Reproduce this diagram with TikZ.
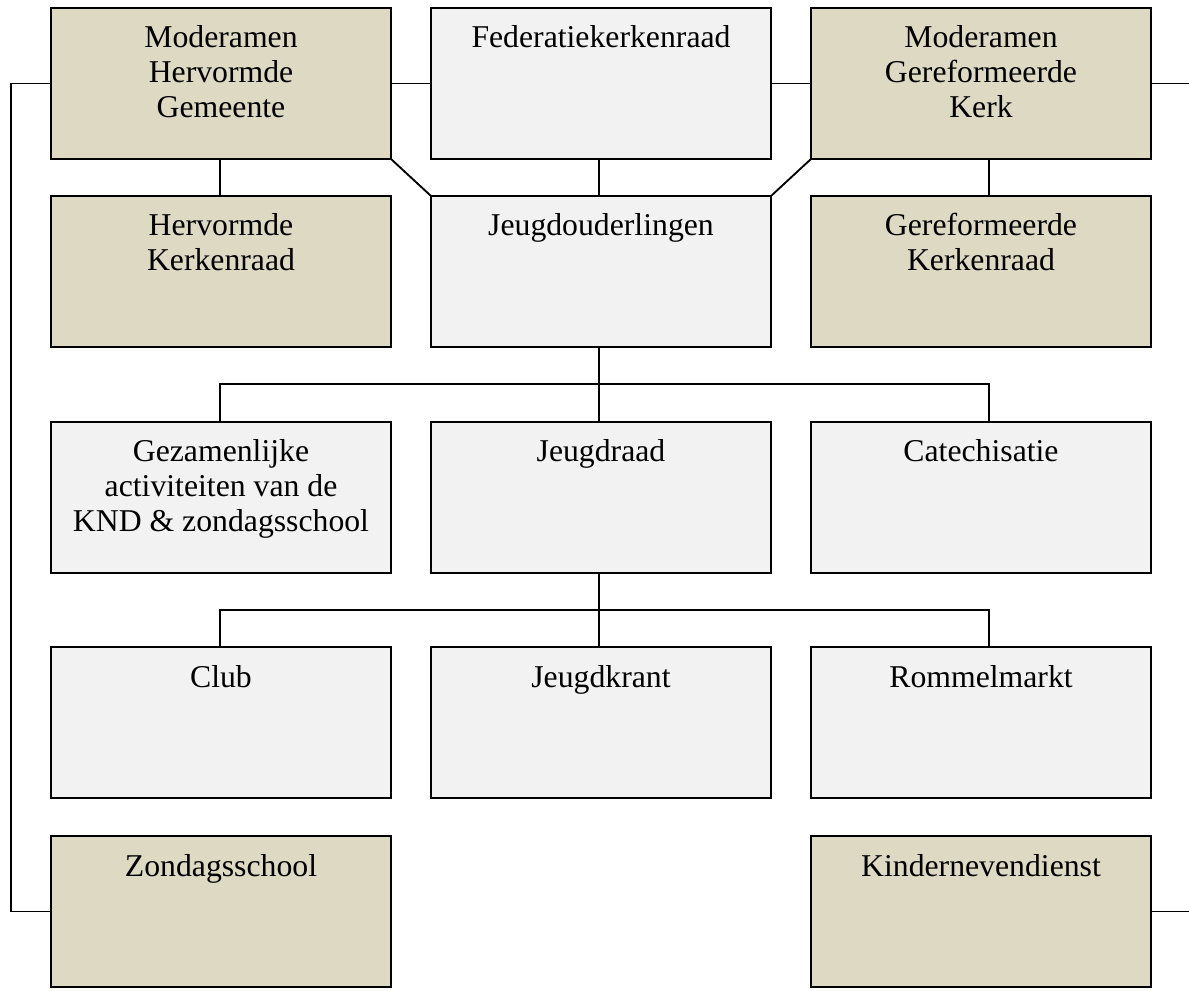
\documentclass[tikz,border=0pt]{standalone}
\usepackage{fontspec}
\setmainfont{Liberation Serif}
\definecolor{boxtan}{HTML}{DDD9C3}
\definecolor{boxgray}{HTML}{F2F2F2}
\tikzset{
  orgbox/.style={draw, line width=1.5pt, minimum width=255pt, minimum height=113.25pt, inner sep=0pt, outer sep=0pt},
  tanbox/.style={orgbox, fill=boxtan},
  graybox/.style={orgbox, fill=boxgray},
  lbl/.style={anchor=base, inner sep=0pt, font=\fontsize{23.8}{26.25}\selectfont},
  conn/.style={line width=1.4pt},
}
\newcommand\boxtext[1]{\begin{tabular}[t]{@{}c@{}}#1\end{tabular}}
\begin{document}
\begin{tikzpicture}[x=0.75pt,y=-0.75pt]
\useasboundingbox (0,0) rectangle (1189,991);
% row 1
\node[tanbox]  (mhg) at (221,83.5) {};
\node[graybox] (fed) at (601,83.5) {};
\node[tanbox]  (mgk) at (981,83.5) {};
% row 2
\node[tanbox]  (hk) at (221,271.5) {};
\node[graybox] (jo) at (601,271.5) {};
\node[tanbox]  (gk) at (981,271.5) {};
% row 3
\node[graybox] (gez) at (221,497) {};
\node[graybox] (jr)  at (601,497) {};
\node[graybox] (cat) at (981,497) {};
% row 4
\node[graybox] (club) at (221,722.5) {};
\node[graybox] (jk)   at (601,722.5) {};
\node[graybox] (rm)   at (981,722.5) {};
% row 5
\node[tanbox] (zs) at (221,911.5) {};
\node[tanbox] (kn) at (981,911.5) {};
% texts
\node[lbl] (mhg-t) at ([yshift=-30pt]mhg.north) {\boxtext{Moderamen\\Hervormde\\Gemeente}};
\node[lbl] (fed-t) at ([yshift=-30pt]fed.north) {\boxtext{Federatiekerkenraad}};
\node[lbl] (mgk-t) at ([yshift=-30pt]mgk.north) {\boxtext{Moderamen\\Gereformeerde\\Kerk}};
\node[lbl] (hk-t) at ([yshift=-30pt]hk.north) {\boxtext{Hervormde\\Kerkenraad}};
\node[lbl] (jo-t) at ([yshift=-30pt]jo.north) {\boxtext{Jeugdouderlingen}};
\node[lbl] (gk-t) at ([yshift=-30pt]gk.north) {\boxtext{Gereformeerde\\Kerkenraad}};
\node[lbl] (gez-t) at ([yshift=-30pt]gez.north) {\boxtext{Gezamenlijke\\activiteiten van de\\KND \& zondagsschool}};
\node[lbl] (jr-t) at ([yshift=-30pt]jr.north) {\boxtext{Jeugdraad}};
\node[lbl] (cat-t) at ([yshift=-30pt]cat.north) {\boxtext{Catechisatie}};
\node[lbl] (club-t) at ([yshift=-30pt]club.north) {\boxtext{Club}};
\node[lbl] (jk-t) at ([yshift=-30pt]jk.north) {\boxtext{Jeugdkrant}};
\node[lbl] (rm-t) at ([yshift=-30pt]rm.north) {\boxtext{Rommelmarkt}};
\node[lbl] (zs-t) at ([yshift=-30pt]zs.north) {\boxtext{Zondagsschool}};
\node[lbl] (kn-t) at ([yshift=-30pt]kn.north) {\boxtext{Kindernevendienst}};
% helper coordinates
\coordinate (ledge) at (11,0);
\coordinate (redge) at (1189,0);
\coordinate (bus1) at (0,384);
\coordinate (bus2) at (0,610);
% connectors
\draw[conn] (mhg.east) -- (fed.west);
\draw[conn] (fed.east) -- (mgk.west);
\draw[conn] (mgk.east) -- (mgk.east -| redge);
\draw[conn] (kn.east) -- (kn.east -| redge);
\draw[conn] (mhg.west) -- (mhg.west -| ledge) |- (zs.west);
\draw[conn] ([xshift=-0.75pt]mhg.south) -- ([xshift=-0.75pt]hk.north);
\draw[conn] ([xshift=-1.5pt]fed.south) -- ([xshift=-1.5pt]jo.north);
\draw[conn] ([xshift=6pt]mgk.south) -- ([xshift=6pt]gk.north);
\draw[conn] (mhg.south east) -- (jo.north west);
\draw[conn] (mgk.south west) -- (jo.north east);
\draw[conn] ([xshift=-1.5pt]jo.south) -- ([xshift=-1.5pt]jr.north);
\draw[conn] ([xshift=-0.75pt]gez.north) |- ([xshift=6pt]cat.north |- bus1) -- ([xshift=6pt]cat.north);
\draw[conn] ([xshift=-1.5pt]jr.south) -- ([xshift=-1.5pt]jk.north);
\draw[conn] ([xshift=-0.75pt]club.north) |- ([xshift=6pt]rm.north |- bus2) -- ([xshift=6pt]rm.north);
\end{tikzpicture}
\end{document}
